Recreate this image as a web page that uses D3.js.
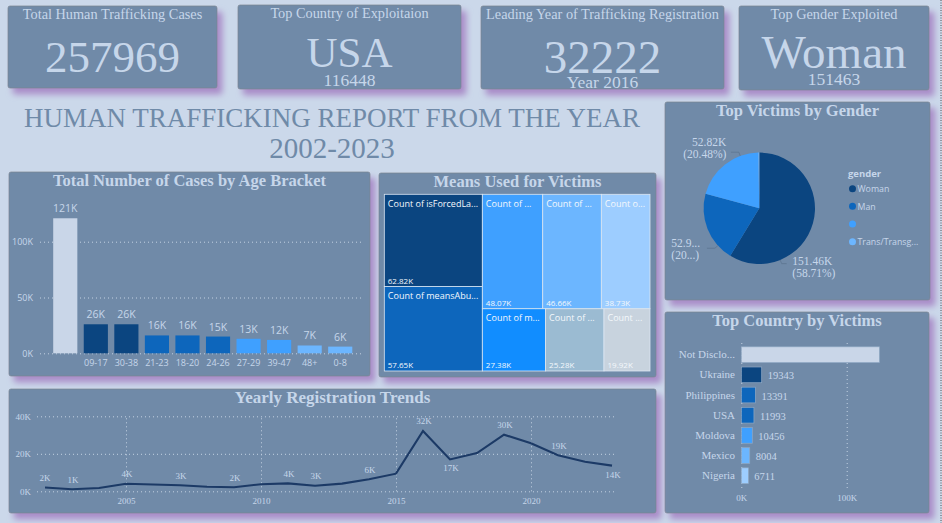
<!DOCTYPE html>
<html>
<head>
<meta charset="utf-8">
<script src="https://cdn.jsdelivr.net/npm/d3@7"></script>
<style>
  html, body { margin: 0; padding: 0; background: #cbd8ea; overflow: hidden; }
  svg { display: block; }
  text { fill: #c6d6ea; }
  .serif { font-family: "Liberation Serif", serif; }
  .sans { font-family: "Open Sans", "Noto Sans", sans-serif; }
  .grid line { stroke: #c3d1e2; stroke-dasharray: 1 3; stroke-width: 1; }
  .domain { display: none; }
</style>
</head>
<body>
<svg id="chart" width="942" height="523"></svg>
<script>
// kpi cards
const kpiTitles = ["Total Human Trafficking Cases", "Top Country of Exploitaion", "Leading Year of Trafficking Registration", "Top Gender Exploited"];
const kpiValues = ["257969", "USA", "32222", "Woman"];
const kpiNotes = ["", "116448", "Year 2016", "151463"];

// age bracket bars
const ageBrackets = ["", "09-17", "30-38", "21-23", "18-20", "24-26", "27-29", "39-47", "48+", "0-8"];
const ageCases = [121000, 26000, 26000, 16000, 16000, 15000, 13000, 12000, 7000, 6000];
const ageTicks = [0, 50000, 100000];

// means treemap, split in the columns and rows it has in the report
const meansLeftLabels = ["Count of isForcedLa...", "Count of meansAbu..."];
const meansLeft = [62820, 57650];
const meansTopLabels = ["Count of ...", "Count of ...", "Count o..."];
const meansTop = [48070, 46660, 38730];
const meansBottomLabels = ["Count of m...", "Count of ...", "Count ..."];
const meansBottom = [27380, 25280, 19920];

// gender pie
const genders = ["Woman", "Man", "", "Trans/Transg..."];
const genderCases = [151460, 52900, 52820, 790];

// country bars
const countries = ["Not Disclo...", "Ukraine", "Philippines", "USA", "Moldova", "Mexico", "Nigeria"];
const countryCases = [131000, 19343, 13391, 11993, 10456, 8004, 6711];

// yearly line
const years = [2002,2003,2004,2005,2006,2007,2008,2009,2010,2011,2012,2013,2014,2015,2016,2017,2018,2019,2020,2021,2022,2023];
const yearCases = [2000,1100,1800,4000,3600,3200,2400,2200,3800,4200,3000,4100,6400,9400,32200,17000,20400,30200,25600,19200,15800,13700];
const labelledYears = [2002,2003,2005,2007,2009,2011,2012,2014,2016,2017,2019,2021,2023];

// colours
const lightBar = "#c9d6e8", navy = "#0b4580", blue = "#0d66bc", sky = "#3fa0ff", pale = "#6cb6ff", paler = "#9dcdff";
const panelFill = "#6f8aa8";

const svg = d3.select("#chart");
const kFormat = d => Math.round(d / 1000) + "K";

const shadow = svg.append("defs").append("filter")
  .attr("id", "shadow")
  .attr("x", "-10%").attr("y", "-10%")
  .attr("width", "125%").attr("height", "130%");
shadow.append("feDropShadow")
  .attr("dx", 5).attr("dy", 6)
  .attr("stdDeviation", 3)
  .attr("flood-color", "#a98cc8");

function panel(x, y, w, h, title, titleSize) {
  svg.append("rect")
    .attr("x", x).attr("y", y)
    .attr("width", w).attr("height", h)
    .attr("rx", 2)
    .attr("fill", panelFill)
    .attr("stroke", "#7d8590")
    .attr("stroke-width", 0.7)
    .attr("filter", "url(#shadow)");
  if (title) {
    svg.append("text")
      .attr("class", "serif")
      .attr("x", x + w / 2).attr("y", y + 14)
      .attr("text-anchor", "middle")
      .attr("font-size", titleSize || 16.5)
      .attr("font-weight", "bold")
      .text(title);
  }
}

// dotted edge on the right of the page
svg.append("line")
  .attr("x1", 941).attr("x2", 941)
  .attr("y1", 0).attr("y2", 523)
  .attr("stroke", "#555")
  .attr("stroke-dasharray", "1 1.5");

//////////////////////////
// KPI cards
//////////////////////////
const kpiBoxes = [
  {x: 8, y: 6, w: 209, h: 82, titleY: 19, valueY: 72, size: 45},
  {x: 238, y: 5, w: 223, h: 84, titleY: 18, valueY: 67, size: 43},
  {x: 481, y: 6, w: 243, h: 83, titleY: 19, valueY: 73, size: 47},
  {x: 739, y: 6, w: 190, h: 84, titleY: 19, valueY: 68, size: 47}
];
const kpiNoteY = [0, 86, 88, 85];
kpiBoxes.forEach((b, i) => {
  panel(b.x, b.y, b.w, b.h);
  let cx = b.x + b.w / 2;
  svg.append("text").attr("class", "serif")
    .attr("x", cx).attr("y", b.titleY)
    .attr("text-anchor", "middle").attr("font-size", 14.3)
    .text(kpiTitles[i]);
  svg.append("text").attr("class", "serif")
    .attr("x", cx).attr("y", b.valueY)
    .attr("text-anchor", "middle").attr("font-size", b.size)
    .text(kpiValues[i]);
  if (kpiNotes[i]) {
    svg.append("text").attr("class", "serif")
      .attr("x", cx).attr("y", kpiNoteY[i])
      .attr("text-anchor", "middle").attr("font-size", 17.5)
      .text(kpiNotes[i]);
  }
});

//////////////////////////
// main heading
//////////////////////////
svg.append("text").attr("class", "serif")
  .attr("x", 332).attr("y", 127)
  .attr("text-anchor", "middle").attr("font-size", 27)
  .style("fill", "#6f8aa8")
  .text("HUMAN TRAFFICKING REPORT FROM THE YEAR");
svg.append("text").attr("class", "serif")
  .attr("x", 332).attr("y", 158)
  .attr("text-anchor", "middle").attr("font-size", 29)
  .style("fill", "#6f8aa8")
  .text("2002-2023");

//////////////////////////
// age bracket bars
//////////////////////////
panel(9, 172, 361, 204, "Total Number of Cases by Age Bracket");

const ageX = d3.scaleBand()
  .domain(ageBrackets)
  .range([50, 355.5])
  .paddingInner(0.21)
  .paddingOuter(0.105);
const ageY = d3.scaleLinear().domain([0, 100000]).range([353.3, 241.7]);
const ageColour = d3.scaleOrdinal()
  .domain(ageBrackets)
  .range([lightBar, navy, navy, blue, blue, blue, sky, sky, pale, pale]);

const ageGrid = svg.append("g")
  .attr("class", "grid sans")
  .attr("transform", "translate(40,0)")
  .call(d3.axisLeft(ageY).tickValues(ageTicks).tickFormat(kFormat).tickSize(-324).tickPadding(7));
ageGrid.selectAll("text").attr("font-size", 9);

svg.append("g").selectAll("rect")
  .data(ageCases)
  .enter()
  .append("rect")
  .attr("x", (d, i) => ageX(ageBrackets[i]))
  .attr("y", d => ageY(d))
  .attr("width", ageX.bandwidth())
  .attr("height", d => ageY(0) - ageY(d))
  .attr("fill", (d, i) => ageColour(ageBrackets[i]));

svg.append("g").selectAll("text")
  .data(ageCases)
  .enter()
  .append("text")
  .attr("class", "sans")
  .attr("x", (d, i) => ageX(ageBrackets[i]) + ageX.bandwidth() / 2)
  .attr("y", d => ageY(d) - 6)
  .attr("text-anchor", "middle")
  .attr("font-size", 10.5)
  .text(kFormat);

svg.append("g").selectAll("text")
  .data(ageBrackets)
  .enter()
  .append("text")
  .attr("class", "sans")
  .attr("x", d => ageX(d) + ageX.bandwidth() / 2)
  .attr("y", 366)
  .attr("text-anchor", "middle")
  .attr("font-size", 9)
  .text(d => d);

//////////////////////////
// means treemap
//////////////////////////
panel(379, 173, 277, 204, "Means Used for Victims");

function toLeaves(labels, values) {
  return labels.map((name, i) => ({name: name, value: values[i]}));
}
const meansRoot = d3.hierarchy({children: [
  {children: toLeaves(meansLeftLabels, meansLeft)},
  {children: [
    {children: toLeaves(meansTopLabels, meansTop)},
    {children: toLeaves(meansBottomLabels, meansBottom)}
  ]}
]}).sum(d => d.value || 0);

d3.treemap()
  .size([265.7, 176.7])
  .tile((node, x0, y0, x1, y1) => {
    (node.depth % 2 === 0 ? d3.treemapDice : d3.treemapSlice)(node, x0, y0, x1, y1);
  })(meansRoot);

const meansColours = ["#0b4580", "#0d66bc", "#3fa0ff", "#6cb6ff", "#9dcdff", "#118dff", "#9bbbd2", "#c8d3de"];
const meansCells = svg.append("g")
  .attr("transform", "translate(384.3,194.3)")
  .selectAll("g")
  .data(meansRoot.leaves())
  .enter()
  .append("g")
  .attr("transform", d => `translate(${d.x0},${d.y0})`);

meansCells.append("rect")
  .attr("width", d => d.x1 - d.x0)
  .attr("height", d => d.y1 - d.y0)
  .attr("fill", (d, i) => meansColours[i])
  .attr("stroke", "#dbe6f2")
  .attr("stroke-width", 0.8);

meansCells.append("text")
  .attr("class", "sans")
  .attr("x", 3.5).attr("y", 12.5)
  .attr("font-size", 9)
  .style("fill", "#f4f8fc")
  .text(d => d.data.name);

meansCells.append("text")
  .attr("class", "sans")
  .attr("x", 3.5)
  .attr("y", d => d.y1 - d.y0 - 2.5)
  .attr("font-size", 8)
  .style("fill", "#f4f8fc")
  .text(d => (d.data.value / 1000).toFixed(2) + "K");

//////////////////////////
// gender pie
//////////////////////////
panel(665, 102, 265, 198, "Top Victims by Gender");

const pieColour = d3.scaleOrdinal().domain(genders).range([navy, blue, sky, pale]);
const pieArcs = d3.pie().sort(null)(genderCases);
const pieR = 55.7;
const pieGroup = svg.append("g").attr("transform", "translate(759.3,208.3)");

pieGroup.selectAll("path")
  .data(pieArcs)
  .enter()
  .append("path")
  .attr("fill", (d, i) => pieColour(genders[i]))
  .attr("d", d3.arc().innerRadius(0).outerRadius(pieR));

// labels sit where the report put them, not at the slice middle
const pieLabels = [
  {deg: 158, lines: ["151.46K", "(58.71%)"], x: 33, y: 57, anchor: "start", elbow: 5},
  {deg: 228, lines: ["52.9...", "(20...)"], x: -88, y: 39, anchor: "start", elbow: -8},
  {deg: 340, lines: ["52.82K", "(20.48%)"], x: -33, y: -62, anchor: "end", elbow: -8}
];
pieLabels.forEach(l => {
  let a = l.deg * Math.PI / 180;
  let px = Math.sin(a) * pieR, py = -Math.cos(a) * pieR;
  let ex = Math.sin(a) * (pieR + 4), ey = -Math.cos(a) * (pieR + 4);
  pieGroup.append("polyline")
    .attr("points", [[px, py], [ex, ey], [ex + l.elbow, ey]].join(" "))
    .attr("fill", "none")
    .attr("stroke", "#5d7590")
    .attr("stroke-width", 0.8);
  l.lines.forEach((t, i) => {
    pieGroup.append("text")
      .attr("class", "serif")
      .attr("x", l.x).attr("y", l.y + i * 11.5)
      .attr("text-anchor", l.anchor)
      .attr("font-size", 11.5)
      .text(t);
  });
});

svg.append("text").attr("class", "sans")
  .attr("x", 848).attr("y", 177)
  .attr("font-size", 9.5).attr("font-weight", "bold")
  .text("gender");
const legendY = d3.scalePoint().domain(genders).range([188.7, 241.7]);
genders.forEach(g => {
  svg.append("circle")
    .attr("cx", 852.5).attr("cy", legendY(g)).attr("r", 3.5)
    .attr("fill", pieColour(g));
  svg.append("text").attr("class", "sans")
    .attr("x", 857.5).attr("y", legendY(g) + 3.5)
    .attr("font-size", 8.8)
    .text(g);
});

//////////////////////////
// country bars
//////////////////////////
panel(665, 312, 264, 201, "Top Country by Victims");

const countryX = d3.scaleLinear().domain([0, 100000]).range([741.3, 846.7]);
const countryY = d3.scaleBand()
  .domain(countries)
  .range([344.6, 485.8])
  .paddingInner(0.22)
  .paddingOuter(0.11);
const countryColour = d3.scaleOrdinal()
  .domain(countries)
  .range([lightBar, navy, blue, blue, sky, pale, paler]);

const countryGrid = svg.append("g")
  .attr("class", "grid serif")
  .attr("transform", "translate(0,488)")
  .call(d3.axisBottom(countryX).tickValues([0, 100000]).tickFormat(kFormat).tickSize(-147).tickPadding(7));
countryGrid.selectAll("text").attr("font-size", 9);

svg.append("g").selectAll("rect")
  .data(countryCases)
  .enter()
  .append("rect")
  .attr("x", countryX(0))
  .attr("y", (d, i) => countryY(countries[i]))
  .attr("width", d => countryX(d) - countryX(0))
  .attr("height", countryY.bandwidth())
  .attr("fill", (d, i) => countryColour(countries[i]))
  .attr("stroke", "#8fa8c4")
  .attr("stroke-width", 0.7);

svg.append("g").selectAll("text")
  .data(countries)
  .enter()
  .append("text")
  .attr("class", "serif")
  .attr("x", 735)
  .attr("y", d => countryY(d) + countryY.bandwidth() / 2 + 3.5)
  .attr("text-anchor", "end")
  .attr("font-size", 11)
  .text(d => d);

// the first bar has no value label in the report
svg.append("g").selectAll("text")
  .data(countryCases.slice(1))
  .enter()
  .append("text")
  .attr("class", "serif")
  .attr("x", d => countryX(d) + 6)
  .attr("y", (d, i) => countryY(countries[i + 1]) + countryY.bandwidth() / 2 + 4.5)
  .attr("font-size", 10.5)
  .text(d => d);

//////////////////////////
// yearly line
//////////////////////////
panel(9, 389, 647, 124, "Yearly Registration Trends", 17);

const lineX = d3.scaleLinear().domain([2005, 2020]).range([126, 531]);
const lineY = d3.scaleLinear().domain([0, 40000]).range([491.3, 416.3]);

const lineXGrid = svg.append("g")
  .attr("class", "grid serif")
  .attr("transform", "translate(0,491.3)")
  .call(d3.axisBottom(lineX).tickValues([2005, 2010, 2015, 2020]).tickFormat(d3.format("d")).tickSize(-75).tickPadding(6));
lineXGrid.selectAll("text").attr("font-size", 9);

const lineYGrid = svg.append("g")
  .attr("class", "grid serif")
  .attr("transform", "translate(37,0)")
  .call(d3.axisLeft(lineY).tickValues([0, 20000, 40000]).tickFormat(kFormat).tickSize(-577).tickPadding(6));
lineYGrid.selectAll("text").attr("font-size", 9);

svg.append("path")
  .datum(yearCases)
  .attr("fill", "none")
  .attr("stroke", "#1c3a66")
  .attr("stroke-width", 2.1)
  .attr("d", d3.line().x((d, i) => lineX(years[i])).y(d => lineY(d)));

// low points and the last year carry the label under the line
const labelsBelow = [2017, 2023];
svg.append("g").selectAll("text")
  .data(labelledYears)
  .enter()
  .append("text")
  .attr("class", "serif")
  .attr("x", d => lineX(d) + (d === 2002 ? 0 : 1))
  .attr("y", d => {
    let v = yearCases[years.indexOf(d)];
    return lineY(v) + (labelsBelow.includes(d) ? 12 : -6.5);
  })
  .attr("text-anchor", "middle")
  .attr("font-size", 9)
  .text(d => kFormat(yearCases[years.indexOf(d)]));
</script>
</body>
</html>
